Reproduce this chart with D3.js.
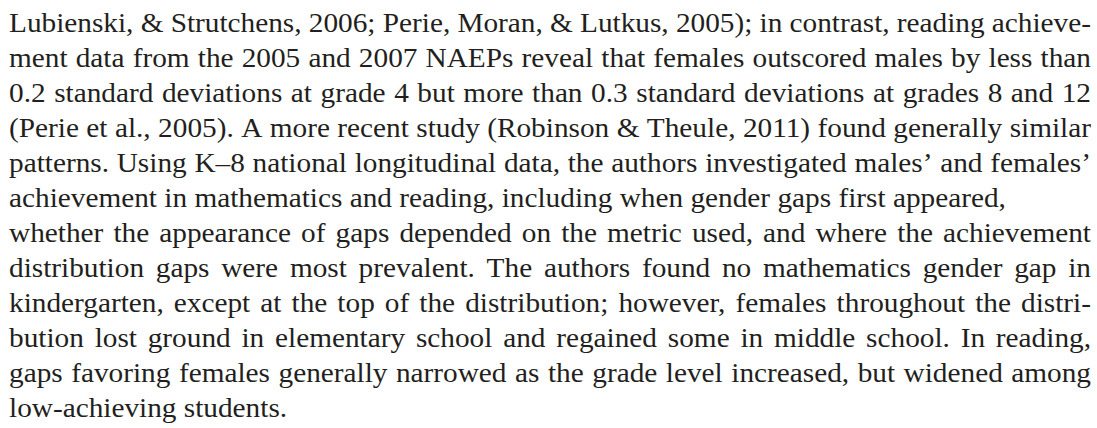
<!DOCTYPE html>
<html>
<head>
<meta charset="utf-8">
<script src="https://cdn.jsdelivr.net/npm/d3@7"></script>
<style>
  html, body { margin: 0; padding: 0; background: #fff; }
  svg { display: block; }
</style>
</head>
<body>
<svg id="root"></svg>
<script>
// the paragraph, one entry per printed line
const lines = [
  "Lubienski, & Strutchens, 2006; Perie, Moran, & Lutkus, 2005); in contrast, reading achieve-",
  "ment data from the 2005 and 2007 NAEPs reveal that females outscored males by less than",
  "0.2 standard deviations at grade 4 but more than 0.3 standard deviations at grades 8 and 12",
  "(Perie et al., 2005). A more recent study (Robinson & Theule, 2011) found generally similar",
  "patterns. Using K\u20138 national longitudinal data, the authors investigated males\u2019 and females\u2019",
  "achievement in mathematics and reading, including when gender gaps first appeared,",
  "whether the appearance of gaps depended on the metric used, and where the achievement",
  "distribution gaps were most prevalent. The authors found no mathematics gender gap in",
  "kindergarten, except at the top of the distribution; however, females throughout the distri-",
  "bution lost ground in elementary school and regained some in middle school. In reading,",
  "gaps favoring females generally narrowed as the grade level increased, but widened among",
  "low-achieving students."
];
// lines set flush left instead of justified (loose line 6 and the last one)
const flushLeft = [5, 11];

const width = 1097, height = 428;
const margin = { top: 32, left: 9, right: 6 };
const lineHeight = 35;
const fontSize = 27;
// the book face is wider than Liberation Serif, stretch a little
const stretch = 1.085;

const svg = d3.select("#root").attr("width", width).attr("height", height);

const y = d3.scaleLinear()
  .domain([0, 1])
  .range([margin.top, margin.top + lineHeight]);

const textWidth = (width - margin.left - margin.right) / stretch;

const rows = svg.selectAll("g.line")
  .data(lines)
  .enter()
  .append("g")
  .attr("class", "line")
  .attr("transform", (d, i) => `translate(${margin.left}, ${y(i)}) scale(${stretch}, 1)`);

rows.each(function (line, i) {
  const g = d3.select(this);
  const words = line.split(" ");
  const t = g.selectAll("text")
    .data(words)
    .enter()
    .append("text")
    .attr("font-family", "'Liberation Serif', 'DejaVu Serif', serif")
    .attr("font-size", fontSize)
    .attr("fill", "#231f20")
    .text((d) => d);

  const widths = [];
  t.each(function () { widths.push(this.getComputedTextLength()); });
  const total = d3.sum(widths);
  const spaceW = fontSize * 0.25;
  const justify = !flushLeft.includes(i);
  let gap = justify ? (textWidth - total) / (words.length - 1) : spaceW;
  let squeeze = 1;
  if (gap < spaceW * 0.7) {
    // too long for the measure: tighten the glyphs a little
    gap = spaceW * 0.7;
    squeeze = (textWidth - gap * (words.length - 1)) / total;
  }
  let x = 0;
  const xs = widths.map((w) => { const p = x; x += w * squeeze + gap; return p; });
  t.attr("x", (d, k) => xs[k]);
  if (squeeze < 1) {
    t.attr("textLength", (d, k) => widths[k] * squeeze)
      .attr("lengthAdjust", "spacingAndGlyphs");
  }
});
</script>
</body>
</html>
